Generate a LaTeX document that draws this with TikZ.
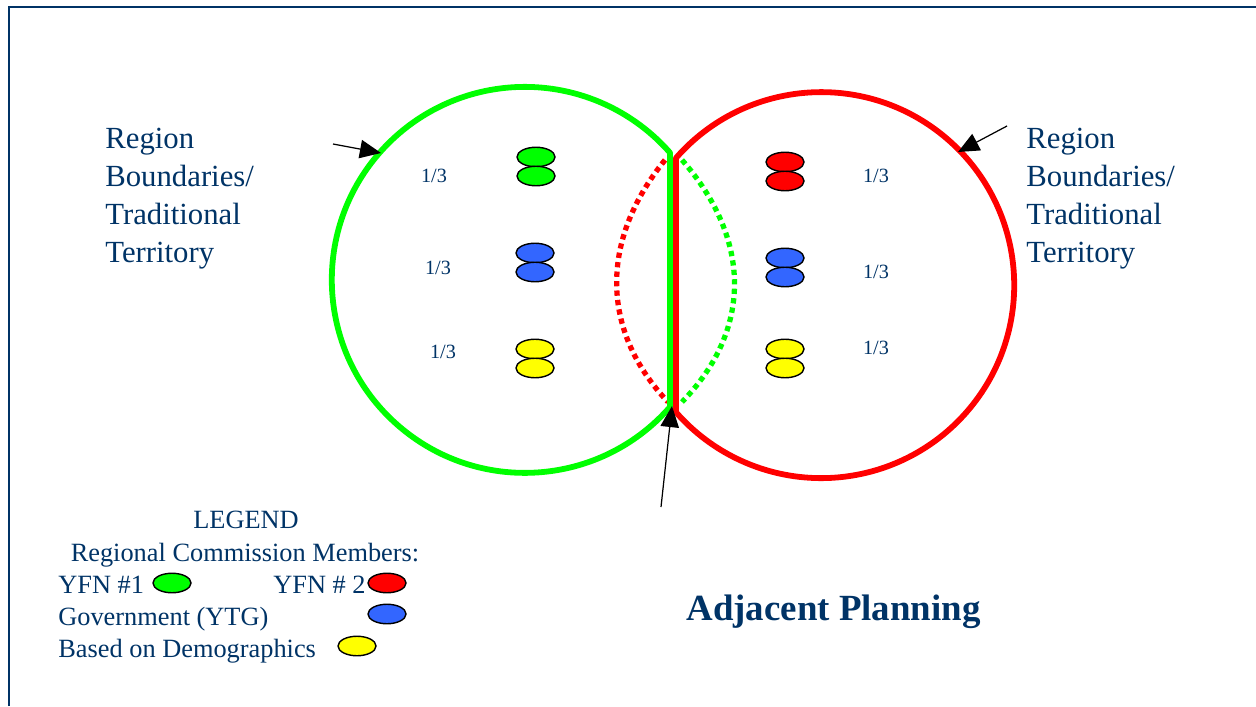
\documentclass[tikz,border=0pt]{standalone}
\usepackage{fontspec}
\setmainfont{Liberation Serif}
\usetikzlibrary{arrows.meta, shapes.geometric}

\definecolor{navy}{RGB}{0,51,102}
\definecolor{lgreen}{RGB}{0,255,0}
\definecolor{lred}{RGB}{255,0,0}
\definecolor{lblue}{RGB}{51,102,255}
\definecolor{lyellow}{RGB}{255,255,0}

\tikzset{
  member/.style={ellipse, draw=black, line width=0.8pt, minimum width=0.76cm, minimum height=0.39cm, inner sep=0pt},
  ring/.style={line width=3.3pt, line join=round},
  dotline/.style={line width=3pt, dash pattern=on 3pt off 2.4pt},
  fracnum/.style={text=navy, font=\fontsize{11.5}{13}\selectfont, inner sep=0pt},
  regtext/.style={text=navy, align=left, inner sep=0pt, font=\fontsize{17.5}{21.5}\selectfont},
  legtext/.style={text=navy, inner sep=0pt, font=\fontsize{15}{18}\selectfont},
  pointer/.style={-{Triangle[length=12pt,width=10.5pt]}, line width=0.7pt, black}
}

\begin{document}
\begin{tikzpicture}[x=0.02cm, y=-0.02cm]
  \useasboundingbox (0,0) rectangle (1256,706);

  % Frame
  \draw[navy, line width=0.9pt] (9,706) -- (9,7) -- (1256,7);

  % Overlap (dotted)
  \draw[dotline, lred] (665,160) .. controls (600,240) and (600,330) .. (668,402);
  \draw[dotline, lgreen] (682,160) .. controls (752,240) and (752,330) .. (682,402);

  % Regions
  \draw[ring, lgreen] (670,407) arc[start angle=41.2, end angle=318.8, radius=193] -- cycle;
  \draw[ring, lred] (676,158) arc[start angle=-138.8, end angle=138.8, radius=193] -- cycle;

  % Members, left region
  \node[member, fill=lgreen] (gA) at (536,157) {};
  \node[member, fill=lgreen] (gB) at (536,176) {};
  \node[member, fill=lblue] (bA) at (535,253) {};
  \node[member, fill=lblue] (bB) at (535,272) {};
  \node[member, fill=lyellow] (yA) at (535,349) {};
  \node[member, fill=lyellow] (yB) at (535,368) {};

  % Members, right region
  \node[member, fill=lred] (rA) at (785,162) {};
  \node[member, fill=lred] (rB) at (785,181) {};
  \node[member, fill=lblue] (cA) at (785,258) {};
  \node[member, fill=lblue] (cB) at (785,277) {};
  \node[member, fill=lyellow] (zA) at (785,349) {};
  \node[member, fill=lyellow] (zB) at (785,368) {};

  % Shares
  \node[fracnum] (fL1) at (434,176) {1/3};
  \node[fracnum] (fL2) at (438,268) {1/3};
  \node[fracnum] (fL3) at (443,352) {1/3};
  \node[fracnum] (fR1) at (876,176) {1/3};
  \node[fracnum] (fR2) at (876,272) {1/3};
  \node[fracnum] (fR3) at (876,348) {1/3};

  % Boundary labels
  \node[regtext, anchor=base west] (regL) at (105,262) {Region\\Boundaries/\\Traditional\\Territory};
  \node[regtext, anchor=base west] (regR) at (1026,262) {Region\\Boundaries/\\Traditional\\Territory};

  % Pointers
  \coordinate (pL) at (333,144);
  \coordinate (tL) at (381,153);
  \coordinate (pR) at (1007,126);
  \coordinate (tR) at (958,152);
  \coordinate (pB) at (661,507);
  \coordinate (tB) at (672,406);
  \draw[pointer] (pL) -- (tL);
  \draw[pointer] (pR) -- (tR);
  \draw[pointer] (pB) -- (tB);

  % Legend
  \node[legtext, anchor=base] (legT) at (246,528) {LEGEND};
  \node[legtext, anchor=base] (legS) at (245,561) {Regional Commission Members:};
  \node[legtext, anchor=base west] (k1) at (58,593) {YFN \#1};
  \node[member, fill=lgreen] (k1e) at (172,583) {};
  \node[legtext, anchor=base west] (k2) at (273,593) {YFN \# 2};
  \node[member, fill=lred] (k2e) at (387,583) {};
  \node[legtext, anchor=base west] (k3) at (58,625) {Government (YTG)};
  \node[member, fill=lblue] (k3e) at (387,614) {};
  \node[legtext, anchor=base west] (k4) at (58,657) {Based on Demographics};
  \node[member, fill=lyellow] (k4e) at (357,646) {};

  % Title
  \node[anchor=base west, inner sep=0pt, text=navy, font=\bfseries\fontsize{21}{25}\selectfont] (title) at (686,620) {Adjacent Planning};

\end{tikzpicture}
\end{document}
